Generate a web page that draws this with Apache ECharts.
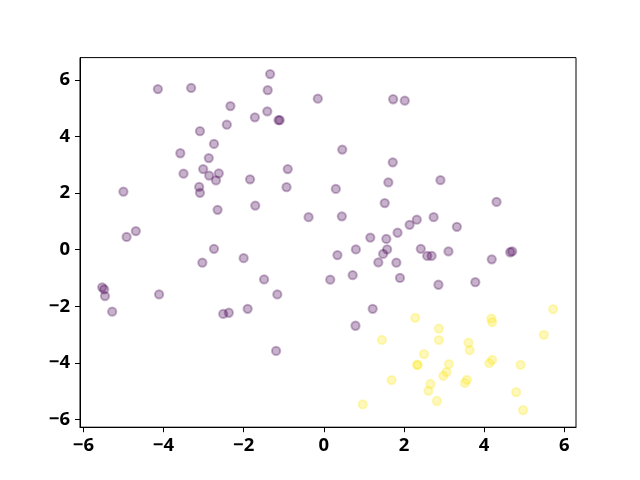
<!DOCTYPE html>
<html>
<head>
<meta charset="utf-8">
<script src="https://cdn.jsdelivr.net/npm/echarts@6/dist/echarts.min.js"></script>
<style>
  html, body { margin: 0; padding: 0; background: #fff; }
  #chart { width: 640px; height: 480px; }
</style>
</head>
<body>
<div id="chart"></div>
<script>
// class 0 (purple) points
const purplePoints = [
  [-4.14, 5.68], [-3.31, 5.72], [-2.33, 5.08], [-2.42, 4.42], [-3.09, 4.19],
  [-2.74, 3.74], [-3.58, 3.41], [-2.87, 3.24], [-3.01, 2.85], [-3.50, 2.69],
  [-2.86, 2.62], [-2.62, 2.70], [-2.69, 2.45], [-1.84, 2.49], [-3.11, 2.22],
  [-3.09, 2.01], [-5.00, 2.05], [-2.65, 1.41], [-4.69, 0.66], [-4.92, 0.45],
  [-2.74, 0.03], [-1.34, 6.21], [-1.40, 5.64], [-0.15, 5.34], [-1.41, 4.89],
  [-1.72, 4.68], [-1.13, 4.58], [-1.10, 4.58], [1.73, 5.32], [2.02, 5.27],
  [0.46, 3.54], [1.72, 3.09], [-0.90, 2.85], [-0.93, 2.21], [0.30, 2.15],
  [1.61, 2.38], [-1.71, 1.56], [1.52, 1.65], [-0.38, 1.15], [0.45, 1.18],
  [2.14, 0.88], [1.84, 0.60], [1.16, 0.43], [1.56, 0.38], [2.91, 2.46],
  [4.31, 1.69], [2.32, 1.06], [2.74, 1.15], [3.32, 0.81], [2.42, 0.03],
  [3.11, -0.06], [-3.03, -0.46], [-2.00, -0.30], [-5.53, -1.33], [-5.48, -1.40],
  [-5.46, -1.64], [-4.11, -1.58], [-5.28, -2.19], [-2.51, -2.27], [-2.37, -2.23],
  [-1.90, -2.09], [-1.49, -1.05], [-1.16, -1.58], [-1.19, -3.58], [0.34, -0.19],
  [0.80, 0.01], [1.58, 0.01], [1.48, -0.15], [1.36, -0.45], [1.81, -0.46],
  [1.90, -1.00], [0.16, -1.06], [0.72, -0.90], [1.22, -2.09], [0.79, -2.69],
  [2.58, -0.22], [2.69, -0.22], [2.86, -1.24], [3.78, -1.15], [4.19, -0.34],
  [4.65, -0.09], [4.70, -0.06]
]

// class 1 (yellow) points
const yellowPoints = [
  [2.28, -2.41], [2.87, -2.79], [2.87, -3.20], [2.50, -3.69], [2.33, -4.07],
  [2.34, -4.07], [3.12, -4.05], [3.06, -4.33], [2.98, -4.46], [2.66, -4.75],
  [2.61, -4.99], [2.82, -5.35], [3.61, -3.29], [3.64, -3.55], [3.57, -4.60],
  [3.52, -4.71], [4.18, -2.44], [4.20, -2.56], [4.20, -3.90], [4.13, -4.01],
  [4.91, -4.07], [4.80, -5.04], [4.97, -5.67], [5.49, -3.01], [5.72, -2.10],
  [1.45, -3.19], [1.69, -4.61], [0.97, -5.47]
]

const tickValues = [-6, -4, -2, 0, 2, 4, 6]

const chart = echarts.init(document.getElementById('chart'), null, { renderer: 'canvas' })

const labelStyle = {
  color: '#000',
  fontFamily: 'Noto Sans',
  fontWeight: 'bold',
  fontSize: 18.5,
  customValues: tickValues,
  formatter: (v) => String(v).replace('-', '\u2212'),
}

function scatterSeries(name, data, rgb) {
  return {
    name,
    type: 'scatter',
    data,
    symbol: 'circle',
    symbolSize: 8.3,
    itemStyle: {
      color: `rgba(${rgb},0.3)`,
      borderColor: `rgba(${rgb},0.3)`,
      borderWidth: 2,
      opacity: 1,
    },
    emphasis: { disabled: true },
  }
}

chart.setOption({
  backgroundColor: '#fff',
  animation: false,
  grid: {
    show: true,
    left: 80,
    top: 57.6,
    width: 496,
    height: 369.6,
    borderColor: '#000',
    borderWidth: 1,
    backgroundColor: 'transparent',
  },
  xAxis: {
    type: 'value',
    min: -6.083,
    max: 6.292,
    axisLine: { show: true, onZero: false, lineStyle: { color: '#000', width: 1 } },
    axisTick: { show: true, length: 5, customValues: tickValues, lineStyle: { color: '#000', width: 1 } },
    axisLabel: { ...labelStyle, margin: 9 },
    splitLine: { show: false },
  },
  yAxis: {
    type: 'value',
    min: -6.277,
    max: 6.793,
    axisLine: { show: true, onZero: false, lineStyle: { color: '#000', width: 1 } },
    axisTick: { show: true, length: 5, customValues: tickValues, lineStyle: { color: '#000', width: 1 } },
    axisLabel: { ...labelStyle, margin: 10 },
    splitLine: { show: false },
  },
  series: [
    scatterSeries('0', purplePoints, '68,1,84'),
    scatterSeries('1', yellowPoints, '253,231,37'),
  ],
})
</script>
</body>
</html>
